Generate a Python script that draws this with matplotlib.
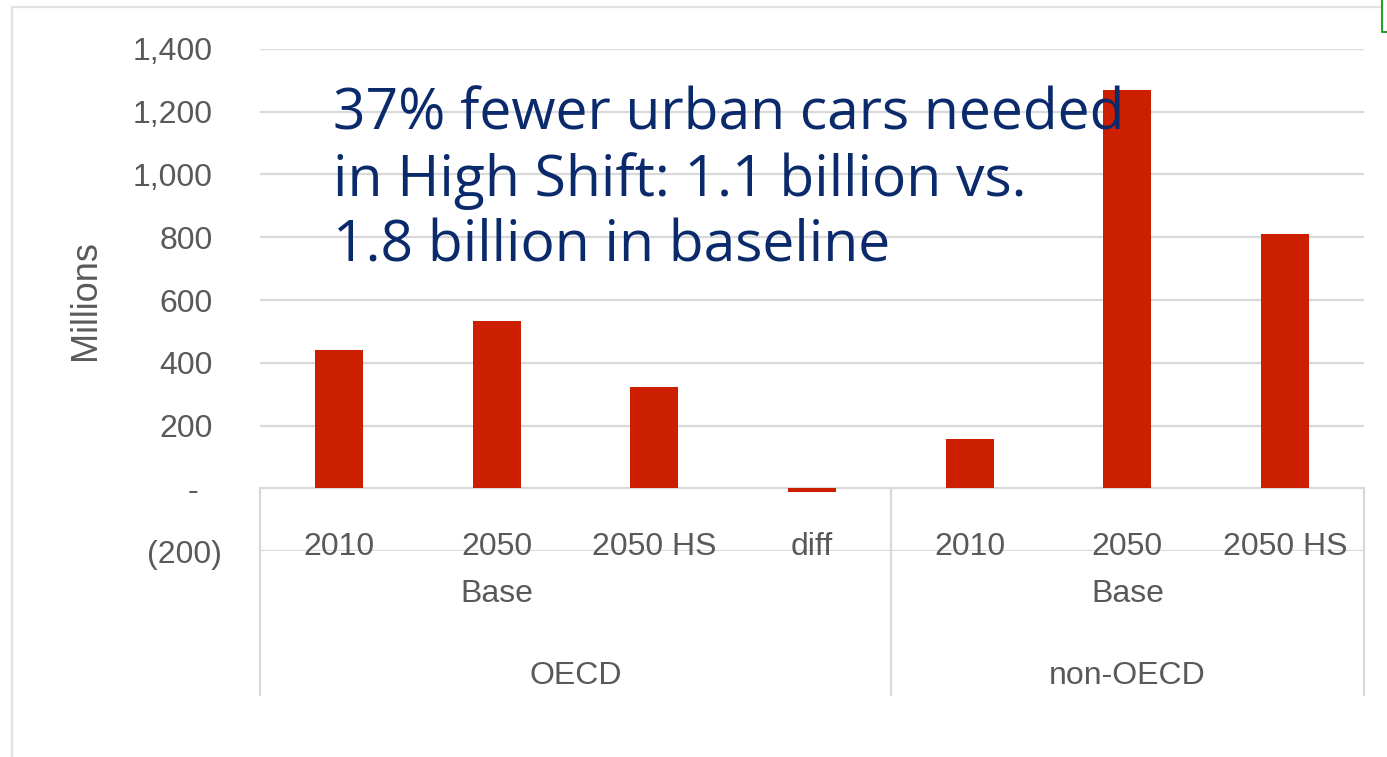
import matplotlib
matplotlib.use("Agg")
import matplotlib.pyplot as plt
from matplotlib.lines import Line2D
from matplotlib.transforms import ScaledTranslation

# Urban car stock (millions)
regions = ["OECD", "non-OECD"]
scenarios_oecd = ["2010", "2050\nBase", "2050 HS", "diff"]
scenarios_non_oecd = ["2010", "2050\nBase", "2050 HS"]
values_oecd = [440, 533, 322, -12]
values_non_oecd = [157, 1268, 809]
y_ticks = [-200, 0, 200, 400, 600, 800, 1000, 1200, 1400]
y_tick_labels = ["(200)", "-", "200", "400", "600", "800", "1,000", "1,200", "1,400"]
note_lines = ["37% fewer urban cars needed",
              "in High Shift: 1.1 billion vs.",
              "1.8 billion in baseline"]

BAR = "#CC1F00"
GRID = "#D9D9D9"
LABEL = "#595959"
NAVY = "#0B2A6B"
FONT = "Liberation Sans"
FS = 23

W, H = 1387, 757
fig = plt.figure(figsize=(W / 100, H / 100), dpi=100)
fig.patch.set_facecolor("white")

ax = fig.add_axes([260 / W, 1 - 551 / H, (1364 - 260) / W, (551 - 49) / H])

categories = scenarios_oecd + scenarios_non_oecd
values = values_oecd + values_non_oecd
x = list(range(len(categories)))
ax.bar(x, values, width=0.305, color=BAR, zorder=3)

ax.set_xlim(-0.5, len(categories) - 0.5)
ax.set_ylim(-200, 1400)
ax.set_yticks(y_ticks)
ax.set_yticklabels(y_tick_labels, family=FONT)
ax.yaxis.grid(True, color=GRID, linewidth=1.6, zorder=0)
ax.set_axisbelow(True)
ax.tick_params(axis="y", length=0, pad=34, labelsize=FS, labelcolor=LABEL)
ax.tick_params(axis="x", length=0, labelbottom=False)
for s in ax.spines.values():
    s.set_visible(False)

# accounting-style alignment of "-" and "(200)"
for lbl in ax.get_yticklabels():
    t = lbl.get_text()
    if t == "-":
        lbl.set_transform(lbl.get_transform() + ScaledTranslation(-0.15, 0, fig.dpi_scale_trans))
    elif t.startswith("("):
        lbl.set_transform(lbl.get_transform() + ScaledTranslation(0.09, 0, fig.dpi_scale_trans))

ax.set_ylabel("Millions", fontsize=26, color=LABEL, family=FONT, labelpad=0)
ax.yaxis.set_label_coords(-(260 - 103) / (1364 - 260), 0.5)

# category table below the zero line
xt = ax.get_xaxis_transform()
for xi, cat in zip(x, categories):
    ax.text(xi, 0.037, cat, transform=xt, ha="center", va="top", family=FONT,
            fontsize=FS, color=LABEL, linespacing=1.71, zorder=4)

n_oecd = len(scenarios_oecd)
group_spans = [(-0.5, n_oecd - 0.5), (n_oecd - 0.5, len(categories) - 0.5)]
for name, (a, b) in zip(regions, group_spans):
    ax.text((a + b) / 2, -0.249, name, transform=xt, ha="center", va="center",
            family=FONT, fontsize=FS, color=LABEL)

y0 = 0.125   # zero line in axes fraction
for xv in [-0.5, n_oecd - 0.5, len(categories) - 0.5]:
    ax.add_line(Line2D([xv, xv], [y0, -0.287], transform=xt, color=GRID,
                       linewidth=1.6, clip_on=False))

# annotation
for i, line in enumerate(note_lines):
    fig.text(333 / W, 1 - (130 + 66 * i) / H, line, fontsize=41, color=NAVY,
             family="Open Sans", ha="left", va="baseline")

# outer frame
fig.add_artist(Line2D([12 / W, 12 / W], [0, 1 - 7 / H], color="#E3E3E3", linewidth=1.6))
fig.add_artist(Line2D([12 / W, 1380 / W], [1 - 7 / H, 1 - 7 / H], color="#E3E3E3", linewidth=1.6))
fig.add_artist(Line2D([1382 / W, 1382 / W, 1.0], [1, 1 - 32 / H, 1 - 32 / H],
                      color="#2AA02A", linewidth=1.5))

fig.savefig("out.png", dpi=100, facecolor="white")
